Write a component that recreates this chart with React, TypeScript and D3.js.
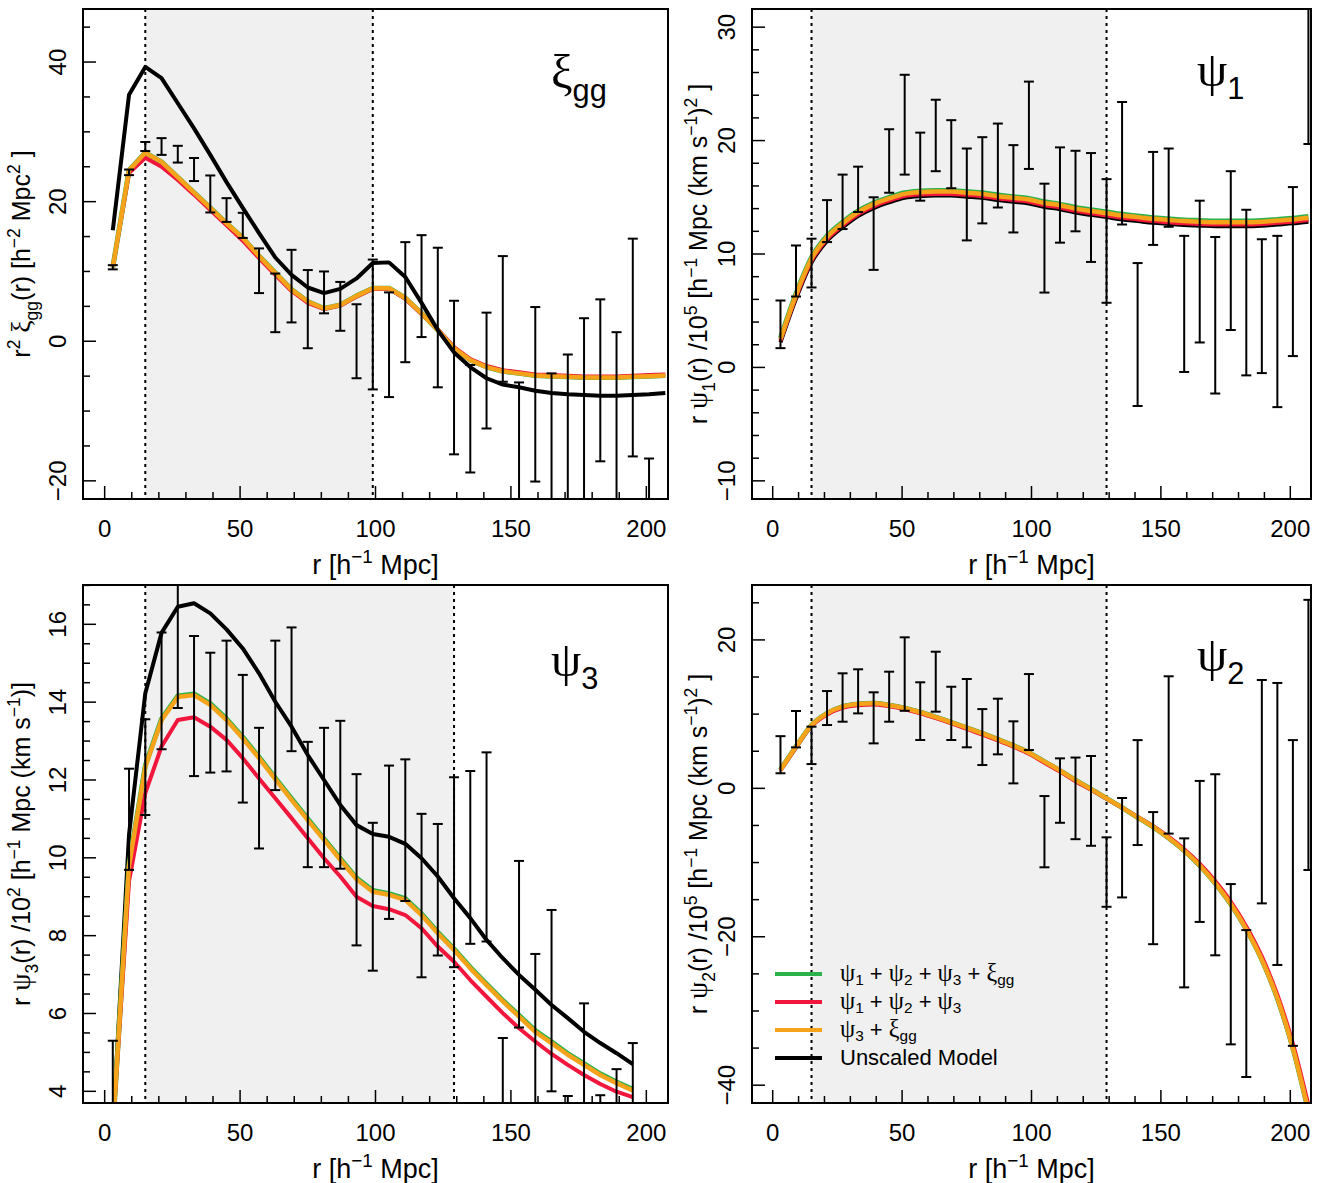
import React from 'react';
import * as d3 from 'd3';

const SANS = '"Liberation Sans", Arial, Helvetica, sans-serif';
const SERIF = '"Liberation Serif", "DejaVu Serif", serif';

const GREEN = '#2bb24a';
const RED = '#f0163c';
const ORANGE = '#f4a31b';
const SHADE = '#f0f0f0';

// bin centres [h^-1 Mpc]
const rBins = [3, 9, 15, 21, 27, 33, 39, 45, 51, 57, 63, 69, 75, 81, 87, 93, 99, 105, 111, 117, 123, 129, 135, 141, 147, 153, 159, 165, 171, 177, 183, 189, 195, 201, 207];
const xMajorTicks = [0, 50, 100, 150, 200];

// ---- xi_gg panel ----
const xiObs = [10.6, 24.2, 27.9, 27.9, 26.8, 24.6, 21.1, 18.8, 16.6, 10.1, 5.5, 7.9, 4.6, 7.0, 5.0, 0.0, 2.4, -0.5, 5.6, 7.9, 3.4, -5.2, -11.1, -4.2, 3.2, -17.0, -7.6, -17.0, -15.0, -10.0, -5.6, -12.0, -0.9, -25.0];
const xiErr = [0.3, 0.4, 0.65, 1.2, 1.2, 1.65, 2.65, 1.7, 1.8, 3.2, 4.2, 5.2, 5.6, 3.0, 3.5, 5.3, 9.3, 7.5, 8.6, 7.3, 10.0, 11.0, 7.7, 8.3, 9.0, 11.1, 12.5, 12.4, 13.1, 13.3, 11.6, 13.3, 15.6, 8.2];
const xiBlack = [15.9, 35.3, 39.3, 37.7, 34.1, 30.5, 26.7, 22.8, 19.1, 15.5, 12.0, 9.5, 7.7, 6.9, 7.5, 9.0, 11.2, 11.3, 9.2, 5.5, 1.6, -1.6, -3.7, -5.3, -6.2, -6.6, -7.1, -7.4, -7.6, -7.7, -7.8, -7.8, -7.7, -7.6, -7.4];
const xiGreen = [10.6, 24.5, 27.0, 25.7, 23.5, 21.3, 19.1, 16.9, 14.8, 12.2, 9.8, 7.4, 5.7, 4.7, 5.2, 6.5, 7.6, 7.6, 6.2, 4.0, 1.6, -1.0, -2.7, -3.7, -4.3, -4.6, -4.9, -5.0, -5.1, -5.2, -5.2, -5.2, -5.1, -5.0, -4.9];
const xiRed = [10.6, 24.1, 26.3, 25.0, 23.1, 21.0, 18.8, 16.6, 14.4, 11.9, 9.5, 7.2, 5.5, 4.6, 5.1, 6.4, 7.5, 7.5, 6.1, 3.9, 1.7, -0.85, -2.55, -3.55, -4.15, -4.45, -4.75, -4.85, -4.95, -5.05, -5.05, -5.05, -4.95, -4.85, -4.75];
const xiOrange = [10.6, 24.5, 27.0, 25.7, 23.5, 21.3, 19.1, 16.9, 14.8, 12.2, 9.8, 7.4, 5.7, 4.7, 5.2, 6.5, 7.6, 7.6, 6.2, 4.0, 1.6, -1.0, -2.7, -3.7, -4.3, -4.6, -4.9, -5.0, -5.1, -5.2, -5.2, -5.2, -5.1, -5.0, -4.9];

// ---- psi_1 panel ----
const psi1Obs = [3.8, 8.5, 9.2, 12.9, 14.6, 15.7, 11.8, 18.2, 21.4, 17.7, 20.45, 18.8, 15.25, 16.5, 17.8, 15.75, 21.35, 11.4, 15.2, 15.55, 14.1, 11.15, 18.0, 2.9, 14.9, 15.85, 5.6, 8.45, 4.6, 10.3, 6.6, 5.4, 4.05, 8.45, 30.0];
const psi1Err = [2.1, 2.25, 2.15, 1.85, 2.4, 2.0, 3.2, 2.8, 4.4, 3.0, 3.15, 3.0, 4.05, 3.8, 3.7, 3.85, 3.85, 4.8, 4.2, 3.55, 4.8, 5.45, 5.4, 6.3, 4.1, 3.45, 6.0, 6.25, 6.9, 7.0, 7.3, 5.9, 7.55, 7.45, 10.3];
const psi1Black = [2.2, 6.05, 9.25, 11.15, 12.35, 13.35, 14.05, 14.55, 14.95, 15.1, 15.15, 15.15, 15.05, 14.95, 14.75, 14.6, 14.45, 14.15, 13.95, 13.65, 13.45, 13.25, 13.05, 12.9, 12.75, 12.65, 12.55, 12.5, 12.45, 12.45, 12.45, 12.5, 12.6, 12.7, 12.85];
const psi1Green = [2.6, 6.5, 9.7, 11.6, 12.8, 13.8, 14.5, 15.0, 15.4, 15.55, 15.6, 15.6, 15.5, 15.4, 15.2, 15.05, 14.9, 14.6, 14.4, 14.1, 13.9, 13.7, 13.5, 13.35, 13.2, 13.1, 13.0, 12.95, 12.9, 12.9, 12.9, 12.95, 13.05, 13.15, 13.3];
const psi1Red = [2.35, 6.2, 9.4, 11.3, 12.5, 13.5, 14.2, 14.7, 15.1, 15.25, 15.3, 15.3, 15.2, 15.1, 14.9, 14.75, 14.6, 14.3, 14.1, 13.8, 13.6, 13.4, 13.2, 13.05, 12.9, 12.8, 12.7, 12.65, 12.6, 12.6, 12.6, 12.65, 12.75, 12.85, 13.0];
const psi1Orange = [2.5, 6.4, 9.6, 11.5, 12.7, 13.7, 14.4, 14.9, 15.3, 15.45, 15.5, 15.5, 15.4, 15.3, 15.1, 14.95, 14.8, 14.5, 14.3, 14.0, 13.8, 13.6, 13.4, 13.25, 13.1, 13.0, 12.9, 12.85, 12.8, 12.8, 12.8, 12.85, 12.95, 13.05, 13.2];

// ---- psi_3 panel ----
const psi3Obs = [3.5, 10.99, 12.33, 14.29, 15.6, 13.9, 13.73, 13.9, 13.06, 11.79, 13.66, 14.33, 11.37, 11.55, 11.62, 9.95, 9.0, 10.4, 10.71, 9.03, 9.18, 9.63, 10.01, 10.28, 4.0, 7.78, 5.2, 6.33, 2.5, 4.2, 2.5, 3.3, 3.9];
const psi3Err = [1.8, 1.3, 1.23, 1.5, 1.75, 1.8, 1.54, 1.68, 1.64, 1.55, 1.92, 1.59, 1.61, 1.79, 1.9, 2.2, 1.9, 1.97, 1.82, 2.1, 1.69, 2.44, 2.22, 2.43, 1.37, 2.14, 2.33, 2.33, 1.38, 2.06, 1.4, 1.27, 1.34];
const psi3Black = [3.0, 10.6, 14.23, 15.78, 16.45, 16.54, 16.28, 15.87, 15.38, 14.74, 14.01, 13.37, 12.64, 12.0, 11.36, 10.84, 10.61, 10.54, 10.36, 9.99, 9.52, 8.96, 8.45, 7.89, 7.42, 6.99, 6.61, 6.22, 5.88, 5.53, 5.24, 4.98, 4.7];
const psi3Green = [3.0, 9.83, 12.37, 13.57, 14.16, 14.21, 13.96, 13.57, 13.1, 12.59, 12.05, 11.52, 11.0, 10.49, 9.98, 9.48, 9.16, 9.08, 8.95, 8.56, 8.09, 7.66, 7.19, 6.76, 6.34, 5.95, 5.56, 5.27, 4.97, 4.71, 4.45, 4.24, 4.05];
const psi3Red = [3.0, 9.4, 11.66, 12.86, 13.54, 13.61, 13.37, 13.03, 12.56, 12.04, 11.53, 11.02, 10.5, 9.99, 9.52, 9.0, 8.76, 8.68, 8.53, 8.19, 7.72, 7.33, 6.86, 6.43, 6.01, 5.62, 5.28, 4.96, 4.68, 4.42, 4.19, 3.99, 3.85];
const psi3Orange = [3.0, 9.8, 12.34, 13.54, 14.13, 14.18, 13.93, 13.54, 13.07, 12.56, 12.02, 11.49, 10.97, 10.46, 9.95, 9.45, 9.13, 9.05, 8.92, 8.53, 8.06, 7.63, 7.16, 6.73, 6.31, 5.92, 5.53, 5.24, 4.94, 4.68, 4.42, 4.21, 4.02];

// ---- psi_2 panel ----
const psi2Obs = [4.53, 7.97, 5.79, 10.82, 12.24, 13.07, 9.5, 12.35, 15.4, 10.4, 14.37, 10.1, 10.13, 6.91, 8.33, 4.85, 10.28, -5.84, -0.3, -1.35, -1.69, -11.28, -8.0, -0.57, -12.1, 4.5, -16.78, -8.5, -10.3, -23.7, -29.0, -0.45, -4.8, -14.1, 7.2];
const psi2Err = [2.5, 2.45, 2.52, 2.29, 3.26, 2.97, 3.44, 3.37, 4.95, 3.89, 4.04, 3.59, 4.6, 3.77, 3.75, 4.18, 5.12, 4.8, 4.34, 5.5, 6.05, 4.68, 6.7, 7.07, 8.9, 10.6, 10.04, 9.5, 12.2, 10.8, 9.9, 15.05, 19.0, 20.6, 18.2];
const psi2Black = [2.5, 5.6, 8.5, 10.1, 11.0, 11.35, 11.45, 11.2, 10.8, 10.25, 9.6, 8.9, 8.15, 7.4, 6.6, 5.75, 4.8, 3.6, 2.4, 1.1, -0.1, -1.35, -2.6, -3.9, -5.2, -6.7, -8.4, -10.4, -12.8, -15.6, -19.0, -23.1, -28.3, -35.0, -43.5];
const psi2Green = [2.5, 5.6, 8.5, 10.1, 11.0, 11.35, 11.45, 11.2, 10.8, 10.25, 9.6, 8.9, 8.15, 7.4, 6.6, 5.75, 4.8, 3.6, 2.4, 1.1, -0.1, -1.35, -2.6, -3.9, -5.2, -6.7, -8.4, -10.4, -12.8, -15.6, -19.0, -23.1, -28.3, -35.0, -43.5];
const psi2Red = [2.4, 5.5, 8.4, 9.95, 10.85, 11.2, 11.3, 11.05, 10.65, 10.1, 9.45, 8.75, 8.0, 7.25, 6.45, 5.6, 4.65, 3.45, 2.25, 0.95, -0.2, -1.4, -2.6, -3.85, -5.1, -6.55, -8.2, -10.15, -12.5, -15.25, -18.6, -22.65, -27.8, -34.4, -42.7];
const psi2Orange = [2.5, 5.6, 8.5, 10.1, 11.0, 11.35, 11.45, 11.2, 10.8, 10.25, 9.6, 8.9, 8.15, 7.4, 6.6, 5.75, 4.8, 3.6, 2.4, 1.1, -0.1, -1.35, -2.6, -3.9, -5.2, -6.7, -8.4, -10.4, -12.8, -15.6, -19.0, -23.1, -28.3, -35.0, -43.5];

type Seg = [string, ('n' | 'sup' | 'sub')?, boolean?];

const legendLabels: Seg[][] = [
  [['ψ', 'n', true], ['1', 'sub'], [' + '], ['ψ', 'n', true], ['2', 'sub'], [' + '], ['ψ', 'n', true], ['3', 'sub'], [' + '], ['ξ', 'n', true], ['gg', 'sub']],
  [['ψ', 'n', true], ['1', 'sub'], [' + '], ['ψ', 'n', true], ['2', 'sub'], [' + '], ['ψ', 'n', true], ['3', 'sub']],
  [['ψ', 'n', true], ['3', 'sub'], [' + '], ['ξ', 'n', true], ['gg', 'sub']],
  [['Unscaled Model']],
];
const legendColors = [GREEN, RED, ORANGE, 'black'];

// text with super/subscripts as tspans
function rich(segs: Seg[], fs: number, subShift = 0.3) {
  let cur = 0;
  return segs.map((s, i) => {
    const pos = s[1] || 'n';
    const target = pos === 'sup' ? -0.42 * fs : pos === 'sub' ? subShift * fs : 0;
    const dy = target - cur;
    cur = target;
    return (
      <tspan key={i} dy={dy} fontSize={pos === 'n' ? (s[2] ? fs * 1.1 : fs) : fs * 0.7} fontFamily={s[2] ? SERIF : undefined}>
        {s[0]}
      </tspan>
    );
  });
}

const xTitle: Seg[] = [['r [h'], ['−1', 'sup'], [' Mpc]']];

function Panel(props: any) {
  const { id, box, yDomain, yMajor, yMinorStep, shade, obs, err, lines, smooth, title, titleXY, ylabel, ylabelOff } = props;
  const x = d3.scaleLinear().domain([-8, 208]).range([box.l, box.r]);
  const y = d3.scaleLinear().domain(yDomain).range([box.b, box.t]);
  const line = d3.line<number>()
    .x((d, i) => x(rBins[i]))
    .y(d => y(d))
    .curve(smooth ? d3.curveMonotoneX : d3.curveLinear);

  const xMinor = d3.range(0, 201, 10).filter(v => !xMajorTicks.includes(v));
  const yMinor = d3.range(Math.ceil(yDomain[0] / yMinorStep) * yMinorStep, yDomain[1], yMinorStep)
    .filter(v => !yMajor.some((m: number) => Math.abs(m - v) < 1e-6));
  const cap = 5;

  return (
    <g>
      <defs>
        <clipPath id={`clip-${id}`}>
          <rect x={box.l} y={box.t} width={box.r - box.l} height={box.b - box.t} />
        </clipPath>
      </defs>
      <rect x={x(shade[0])} y={box.t} width={x(shade[1]) - x(shade[0])} height={box.b - box.t} fill={SHADE} />
      {shade.map((s: number, i: number) => (
        <line key={i} x1={x(s)} x2={x(s)} y1={box.t} y2={box.b} stroke="black" strokeWidth={2} strokeDasharray="3,4" />
      ))}
      <g clipPath={`url(#clip-${id})`}>
        {lines.map((l: any, i: number) => (
          <path key={i} d={line(l.values) || ''} fill="none" stroke={l.color} strokeWidth={l.width} strokeLinejoin="round" />
        ))}
        {obs.map((v: number, i: number) => {
          const cx = x(rBins[i]);
          const y1 = y(v - err[i]);
          const y2 = y(v + err[i]);
          return (
            <g key={i} stroke="black" strokeWidth={2}>
              <line x1={cx} x2={cx} y1={y1} y2={y2} />
              <line x1={cx - cap} x2={cx + cap} y1={y1} y2={y1} />
              <line x1={cx - cap} x2={cx + cap} y1={y2} y2={y2} />
            </g>
          );
        })}
      </g>
      {/* inward ticks */}
      <g stroke="black" strokeWidth={1.5}>
        {xMajorTicks.map(v => <line key={'xM' + v} x1={x(v)} x2={x(v)} y1={box.b} y2={box.b - 13} />)}
        {xMinor.map(v => <line key={'xm' + v} x1={x(v)} x2={x(v)} y1={box.b} y2={box.b - 7} />)}
        {yMajor.map((v: number) => <line key={'yM' + v} x1={box.l} x2={box.l + 13} y1={y(v)} y2={y(v)} />)}
        {yMinor.map((v: number) => <line key={'ym' + v} x1={box.l} x2={box.l + 7} y1={y(v)} y2={y(v)} />)}
      </g>
      <rect x={box.l} y={box.t} width={box.r - box.l} height={box.b - box.t} fill="none" stroke="black" strokeWidth={2} />
      {/* tick labels */}
      <g fontFamily={SANS} fontSize={24} fill="black">
        {xMajorTicks.map(v => (
          <text key={'xl' + v} x={x(v)} y={box.b + 38} textAnchor="middle">{v}</text>
        ))}
        {yMajor.map((v: number) => (
          <text key={'yl' + v} transform={`translate(${box.l - 17},${y(v)}) rotate(-90)`} textAnchor="middle">
            {v < 0 ? '−' + Math.abs(v) : v}
          </text>
        ))}
      </g>
      <text x={(box.l + box.r) / 2} y={box.b + 75} textAnchor="middle" fontFamily={SANS} fontSize={27}>
        {rich(xTitle, 27)}
      </text>
      <text transform={`translate(${box.l - ylabelOff},${(box.t + box.b) / 2}) rotate(-90)`} textAnchor="middle" fontFamily={SANS} fontSize={25}>
        {rich(ylabel, 25)}
      </text>
      <text x={titleXY[0]} y={titleXY[1]} fontFamily={SANS} fontSize={44}>
        {rich(title, 44)}
      </text>
    </g>
  );
}

const makeLines = (black: number[], green: number[], red: number[], orange: number[]) => [
  { values: black, color: 'black', width: 4 },
  { values: green, color: GREEN, width: 5 },
  { values: red, color: RED, width: 4 },
  { values: orange, color: ORANGE, width: 4.5 },
];

export default function App() {
  const legendTop = 974;
  return (
    <svg width={1322} height={1183} style={{ position: 'absolute', left: 0, top: 0, background: 'white' }}>
      <rect width={1322} height={1183} fill="white" />
      <Panel
        id="xi"
        box={{ l: 83, r: 668, t: 9, b: 499 }}
        yDomain={[-22.6, 47.6]}
        yMajor={[-20, 0, 20, 40]}
        yMinorStep={5}
        shade={[15, 99]}
        obs={xiObs}
        err={xiErr}
        lines={[
          { values: xiGreen, color: GREEN, width: 5 },
          { values: xiRed, color: RED, width: 4 },
          { values: xiOrange, color: ORANGE, width: 4.5 },
          { values: xiBlack, color: 'black', width: 4 },
        ]}
        smooth={false}
        title={[['ξ', 'n', true], ['gg', 'sub']]}
        titleXY={[551, 88]}
        ylabel={[['r'], ['2', 'sup'], [' '], ['ξ', 'n', true], ['gg', 'sub'], ['(r) [h'], ['−2', 'sup'], [' Mpc'], ['2', 'sup'], [' ]']]}
        ylabelOff={53}
      />
      <Panel
        id="psi1"
        box={{ l: 752, r: 1311, t: 9, b: 499 }}
        yDomain={[-11.6, 31.6]}
        yMajor={[-10, 0, 10, 20, 30]}
        yMinorStep={2}
        shade={[15, 129]}
        obs={psi1Obs}
        err={psi1Err}
        lines={makeLines(psi1Black, psi1Green, psi1Red, psi1Orange)}
        smooth={true}
        title={[['ψ', 'n', true], ['1', 'sub']]}
        titleXY={[1197, 86]}
        ylabel={[['r '], ['ψ', 'n', true], ['1', 'sub'], ['(r) /10'], ['5', 'sup'], [' [h'], ['−1', 'sup'], [' Mpc (km s'], ['−1', 'sup'], [')'], ['2', 'sup'], [' ]']]}
        ylabelOff={45}
      />
      <Panel
        id="psi3"
        box={{ l: 83, r: 668, t: 585, b: 1103 }}
        yDomain={[3.7, 17.01]}
        yMajor={[4, 6, 8, 10, 12, 14, 16]}
        yMinorStep={0.5}
        shade={[15, 129]}
        obs={psi3Obs}
        err={psi3Err}
        lines={makeLines(psi3Black, psi3Green, psi3Red, psi3Orange)}
        smooth={false}
        title={[['ψ', 'n', true], ['3', 'sub']]}
        titleXY={[551, 676]}
        ylabel={[['r '], ['ψ', 'n', true], ['3', 'sub'], ['(r) /10'], ['2', 'sup'], [' [h'], ['−1', 'sup'], [' Mpc (km s'], ['−1', 'sup'], [')]']]}
        ylabelOff={53}
      />
      <Panel
        id="psi2"
        box={{ l: 752, r: 1311, t: 585, b: 1103 }}
        yDomain={[-42.4, 27.4]}
        yMajor={[-40, -20, 0, 20]}
        yMinorStep={5}
        shade={[15, 129]}
        obs={psi2Obs}
        err={psi2Err}
        lines={makeLines(psi2Black, psi2Green, psi2Red, psi2Orange)}
        smooth={true}
        title={[['ψ', 'n', true], ['2', 'sub']]}
        titleXY={[1197, 671]}
        ylabel={[['r '], ['ψ', 'n', true], ['2', 'sub'], ['(r) /10'], ['5', 'sup'], [' [h'], ['−1', 'sup'], [' Mpc (km s'], ['−1', 'sup'], [')'], ['2', 'sup'], [' ]']]}
        ylabelOff={45}
      />
      {/* legend */}
      <g>
        {legendLabels.map((segs, i) => (
          <g key={i}>
            <line x1={775} x2={822} y1={legendTop + i * 28} y2={legendTop + i * 28} stroke={legendColors[i]} strokeWidth={4} />
            <text x={840} y={legendTop + i * 28 + 7} fontFamily={SANS} fontSize={22}>
              {rich(segs, 22, 0.18)}
            </text>
          </g>
        ))}
      </g>
    </svg>
  );
}
